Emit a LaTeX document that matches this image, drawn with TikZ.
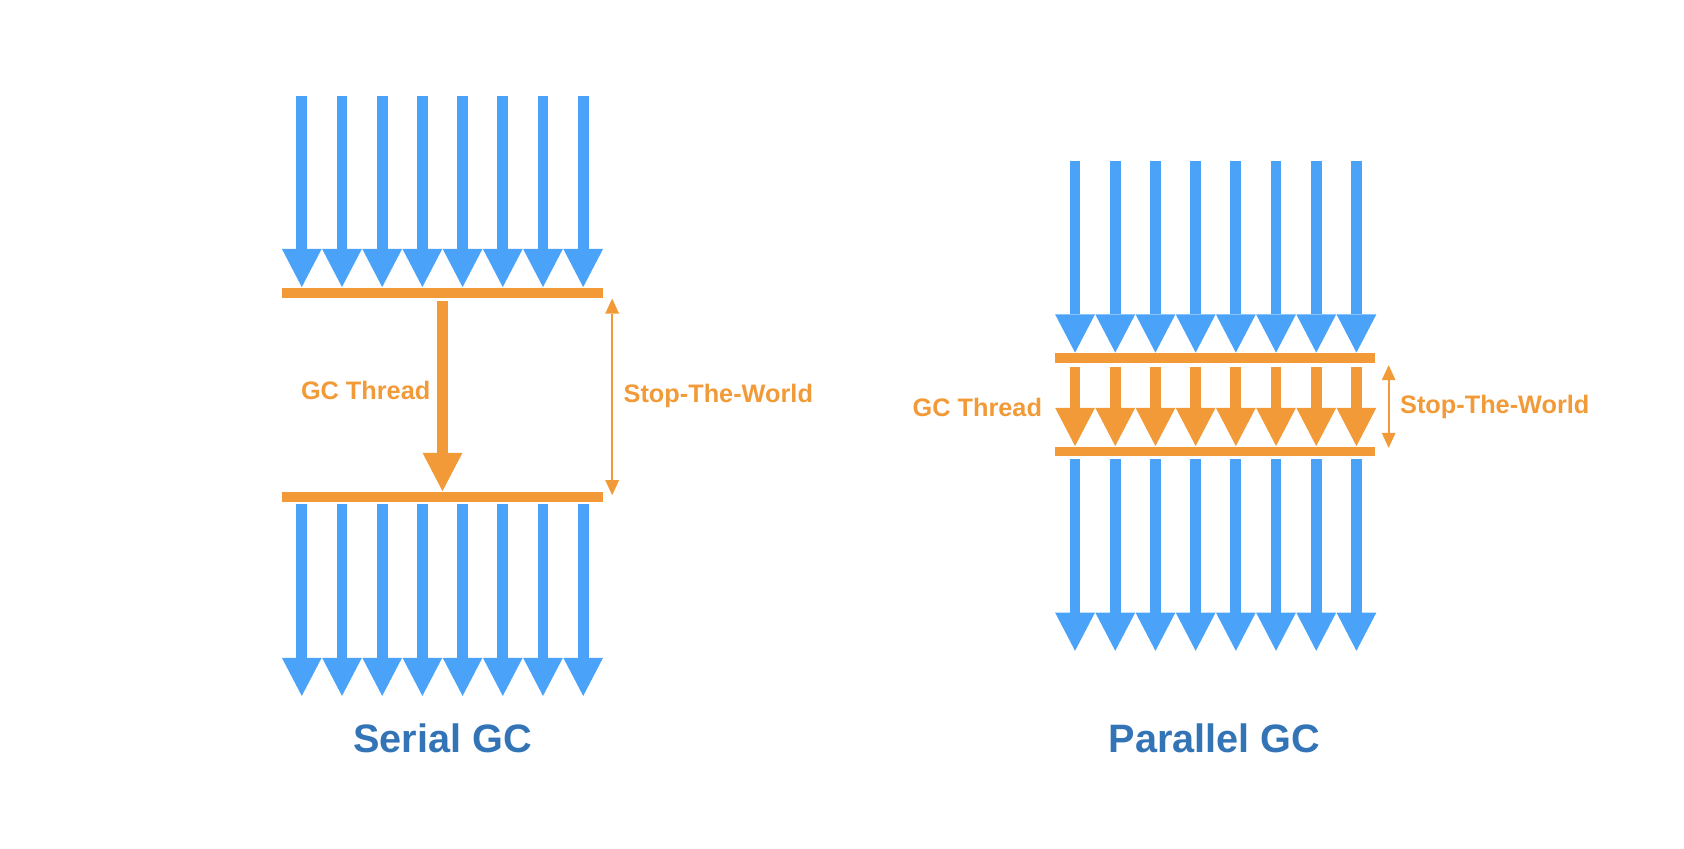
\documentclass[tikz,border=0pt]{standalone}
\usepackage{fontspec}
\setmainfont{Liberation Sans}
\usetikzlibrary{arrows.meta}
\definecolor{ThreadBlue}{HTML}{4AA3F9}
\definecolor{GCOrange}{HTML}{F29A38}
\definecolor{TitleBlue}{HTML}{3274B6}

\begin{document}
\begin{tikzpicture}[
    x=0.01cm, y=-0.01cm,
    bar/.style={fill=GCOrange, minimum width=2.98cm, minimum height=0.09cm, inner sep=0pt},
    thread/.style={-{Triangle[width=0.37cm, length=0.355cm, line width=0pt]}, line width=0.1cm, ThreadBlue},
    gcthread/.style={-{Triangle[width=0.37cm, length=0.355cm, line width=0pt]}, line width=0.1cm, GCOrange},
    pause/.style={{Triangle[width=0.13cm, length=0.14cm, line width=0pt]}-{Triangle[width=0.13cm, length=0.14cm, line width=0pt]}, line width=0.02cm, GCOrange},
    note/.style={font=\fontsize{6.7}{8}\selectfont\bfseries, text=GCOrange, inner sep=0pt},
    title/.style={font=\fontsize{10.5}{12}\selectfont\bfseries, text=TitleBlue, inner sep=0pt}
]
    \useasboundingbox (0,0) rectangle (1568,790);

    % Serial GC
    \node[bar] (sstop) at (412,272.5) {};
    \node[bar] (sgo) at (412,462.5) {};
    \foreach \i in {0,...,7} {
        \coordinate (sin\i) at (281+37.43*\i,89);
        \coordinate (sout\i) at (281+37.43*\i,648);
        \draw[thread] (sin\i) -- (sin\i |- sstop.north);
        \draw[thread] ([yshift=-0.02cm]sout\i |- sgo.south) -- (sout\i);
    }
    \draw[gcthread] ([yshift=-0.03cm]sstop.south) -- (sgo.north);
    \coordinate (swtop) at (570,278);
    \coordinate (swbot) at (570,461);
    \draw[pause] (swtop) -- (swbot);
    \node[note] (sgclabel) at (340.5,364) {GC Thread};
    \node[note, anchor=west] (swlabel) at (580,369) {Stop-The-World};
    \node[title] (serial) at (412,687) {Serial GC};

    % Parallel GC
    \node[bar] (pstop) at (1131.5,333.5) {};
    \node[bar] (pgo) at (1131.5,420.5) {};
    \foreach \i in {0,...,7} {
        \coordinate (pin\i) at (1001+37.43*\i,150);
        \coordinate (pout\i) at (1001+37.43*\i,606);
        \draw[thread] (pin\i) -- (pin\i |- pstop.north);
        \draw[gcthread] ([yshift=-0.03cm]pin\i |- pstop.south) -- (pin\i |- pgo.north);
        \draw[thread] ([yshift=-0.02cm]pout\i |- pgo.south) -- (pout\i);
    }
    \coordinate (pwtop) at (1293,340);
    \coordinate (pwbot) at (1293,417);
    \draw[pause] (pwtop) -- (pwbot);
    \node[note] (pgclabel) at (910,379) {GC Thread};
    \node[note, anchor=west] (pwlabel) at (1303,379) {Stop-The-World};
    \node[title] (parallel) at (1131,687) {Parallel GC};
\end{tikzpicture}
\end{document}
